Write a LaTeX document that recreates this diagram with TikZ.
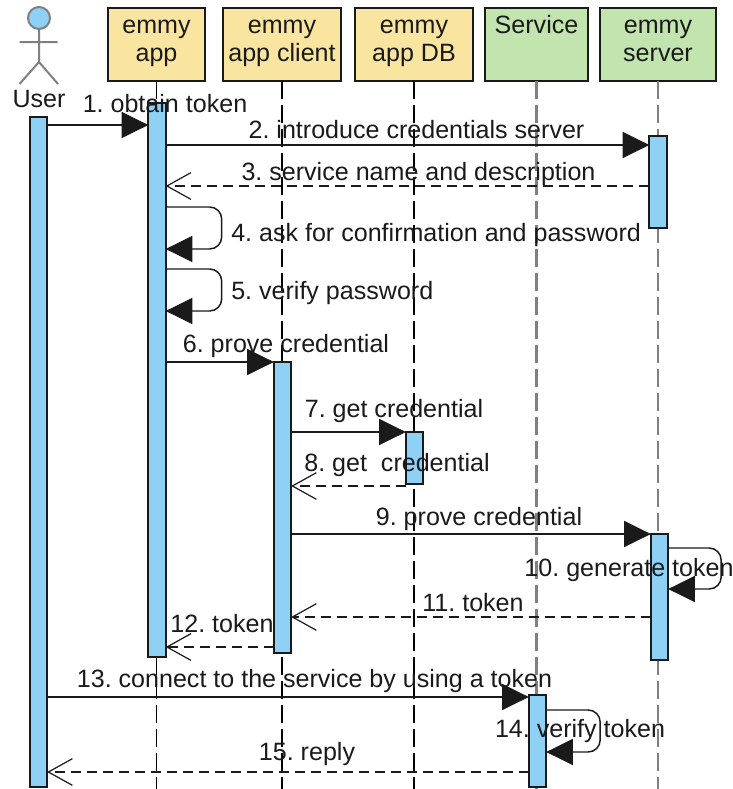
\documentclass[tikz,border=0pt]{standalone}
\usepackage{fontspec}
\setmainfont{Liberation Sans}
\usetikzlibrary{arrows.meta}
\frenchspacing
\definecolor{inkc}{HTML}{1A1A1A}
\definecolor{barc}{HTML}{8FD0F5}
\definecolor{appc}{HTML}{FAE5A0}
\definecolor{srvc}{HTML}{C2E4AE}
\tikzset{
  label font/.style={font=\fontsize{18.8}{21}\selectfont,text=inkc},
  head/.style={draw=inkc,line width=1.6pt,inner sep=0pt,outer sep=0pt,anchor=north,
    minimum height=54.75pt,text height=32pt,align=center,label font,execute at end node=\strut},
  bar/.style={draw=inkc,fill=barc,line width=1.6pt,inner sep=0pt,outer sep=0pt,anchor=north},
  life/.style={draw=black,line width=1pt,dash pattern=on 13.5pt off 4.5pt},
  lifegrey/.style={draw=gray,line width=2pt,dash pattern=on 13.5pt off 4.5pt},
  call/.style={draw=inkc,line width=1.1pt,-{Triangle[length=20pt,width=19.5pt]}},
  back/.style={draw=inkc,line width=1.1pt,dash pattern=on 7.5pt off 4.5pt,-{Straight Barb[length=18pt,width=20pt,line width=0.9pt]}},
  msg/.style={label font,inner sep=0pt},
  limb/.style={draw=gray,line width=1.5pt},
}
\begin{document}
\begin{tikzpicture}[x=0.75pt,y=-0.75pt]
  \useasboundingbox (0,0) rectangle (732,789);
  \coordinate (bottom) at (0,789);
  \node[head,fill=appc,minimum width=72.75pt] (app) at (156.5,8) {emmy\\app};
  \node[head,fill=appc,minimum width=88.5pt] (client) at (282,8) {emmy\\app client};
  \node[head,fill=appc,minimum width=88.5pt] (db) at (414,8) {emmy\\app DB};
  \node[head,fill=srvc,minimum width=77.25pt] (service) at (536.5,8) {Service\\~};
  \node[head,fill=srvc,minimum width=87pt] (server) at (658,8) {emmy\\server};
  \foreach \n in {app,client,db}
    \draw[life] (\n.south) -- (\n.south |- bottom);
  \foreach \n in {service,server}
    \draw[lifegrey] (\n.south) -- (\n.south |- bottom);
  \node[draw=gray,fill=barc,circle,line width=1.5pt,minimum size=16.5pt,inner sep=0pt] (userhead) at (39,18) {};
  \coordinate (hip) at (39,62);
  \coordinate (armL) at (19.5,42);
  \coordinate (armR) at (57.5,42);
  \coordinate (legL) at (19.5,84);
  \coordinate (legR) at (58,84);
  \draw[limb] (userhead.south) -- (hip) (armL) -- (armR) (legL) -- (hip) -- (legR);
  \node[msg] (user) at (39,99) {User};
  \foreach \n/\x/\t/\b in {userbar/38.5/117/787,appbar/157/103/657,srvbarA/658/136/228,
      clientbar/282.5/362/653,dbbar/414.5/432/484,srvbarB/659.5/534/660,servicebar/537.5/695/787}
    \node[bar,minimum width=13pt,minimum height={(\b-\t)*0.75pt}] (\n) at (\x,\t) {};
  \foreach \n/\y in {r1/125,r2/145,r3/186,r4/207,r4b/249,r5/269,r5b/311,r6/362,r7/432,r8/486,
      r9/534,r10/548,r10b/589,r11/617,r12/647,r13/697,r14/710,r14b/752,r15/772}
    \coordinate (\n) at (0,\y);
  \draw[call] (userbar.east |- r1) -- (appbar.west |- r1);
  \draw[call] (appbar.east |- r2) -- (srvbarA.west |- r2);
  \draw[back] (srvbarA.west |- r3) -- (appbar.east |- r3);
  \draw[call,rounded corners=9pt] (appbar.east |- r4) -- ++(56,0) |- (appbar.east |- r4b);
  \draw[call,rounded corners=9pt] (appbar.east |- r5) -- ++(56,0) |- (appbar.east |- r5b);
  \draw[call] (appbar.east |- r6) -- (clientbar.west |- r6);
  \draw[call] (clientbar.east |- r7) -- (dbbar.west |- r7);
  \draw[back] (dbbar.west |- r8) -- (clientbar.east |- r8);
  \draw[call] (clientbar.east |- r9) -- (srvbarB.west |- r9);
  \draw[call,rounded corners=9pt] (srvbarB.east |- r10) -- ++(53,0) |- (srvbarB.east |- r10b);
  \draw[back] (srvbarB.west |- r11) -- (clientbar.east |- r11);
  \draw[back] (clientbar.west |- r12) -- (appbar.east |- r12);
  \draw[call] (userbar.east |- r13) -- (servicebar.west |- r13);
  \draw[call,rounded corners=9pt] (servicebar.east |- r14) -- ++(54,0) |- (servicebar.east |- r14b);
  \draw[back] (servicebar.west |- r15) -- (userbar.east |- r15);
  \node[msg] (m1) at (165,104) {1. obtain token};
  \node[msg] (m2) at (416.5,130) {2. introduce credentials server};
  \node[msg] (m3) at (418.5,174) {3. service name and description};
  \node[msg,anchor=west] (m4) at (231,235.5) {4. ask for confirmation and password};
  \node[msg,anchor=west] (m5) at (231,293.5) {5. verify password};
  \node[msg] (m6) at (286,346) {6. prove credential};
  \node[msg] (m7) at (394,411) {7. get credential};
  \node[msg] (m8) at (397,465) {8. get\ \ credential};
  \node[msg] (m9) at (479,519) {9. prove credential};
  \node[msg] (m10) at (629,570) {10. generate token};
  \node[msg] (m11) at (473,603) {11. token};
  \node[msg] (m12) at (222,624) {12. token};
  \node[msg] (m13) at (314.5,681) {13. connect to the service by using a token};
  \node[msg] (m14) at (580,731) {14. verify token};
  \node[msg] (m15) at (307,754) {15. reply};
\end{tikzpicture}
\end{document}
